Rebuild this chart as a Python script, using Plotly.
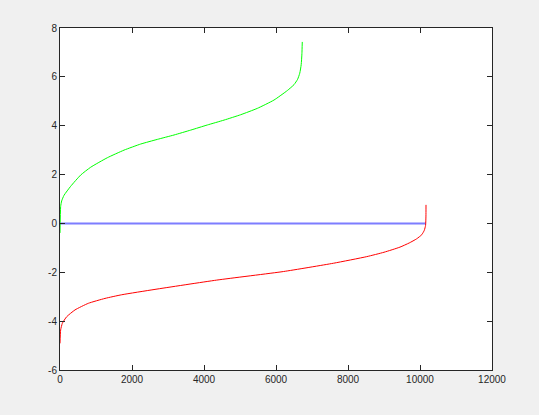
import plotly.graph_objects as go

# Green series (sorted values)
green_x = [0, 18, 46, 111, 296, 574, 852, 1315, 1778, 2241, 2704, 3167, 3630, 4093, 4556,
           5019, 5481, 5944, 6315, 6500, 6600, 6660, 6700, 6720, 6730]
green_y = [-0.39, 0.69, 0.92, 1.15, 1.52, 1.98, 2.30, 2.69, 3.00, 3.25, 3.44, 3.62, 3.82, 4.03, 4.23,
           4.45, 4.71, 5.05, 5.44, 5.68, 5.90, 6.15, 6.50, 6.95, 7.43]

# Red series
red_x = [0, 18, 65, 185, 417, 787, 1250, 1713, 2639, 4352, 6204, 7593, 8519, 9000, 9444,
         9700, 9907, 10050, 10120, 10155, 10165, 10167]
red_y = [-4.91, -4.36, -4.09, -3.82, -3.54, -3.27, -3.07, -2.92, -2.70, -2.32, -1.97, -1.63,
         -1.36, -1.18, -0.97, -0.80, -0.63, -0.46, -0.28, -0.08, 0.30, 0.76]

# Blue series (constant zero)
blue_x = [0, 10167]
blue_y = [0, 0]

x_ticks = [0, 2000, 4000, 6000, 8000, 10000, 12000]
y_ticks = [-6, -4, -2, 0, 2, 4, 6, 8]

fig = go.Figure()
fig.add_trace(go.Scatter(x=blue_x, y=blue_y, mode="lines",
                         line=dict(color="rgb(125,125,255)", width=2)))
fig.add_trace(go.Scatter(x=green_x, y=green_y, mode="lines",
                         line=dict(color="rgb(0,255,0)", width=1, shape="spline", smoothing=0.5)))
fig.add_trace(go.Scatter(x=red_x, y=red_y, mode="lines",
                         line=dict(color="rgb(255,0,0)", width=1, shape="spline", smoothing=0.5)))

axis_common = dict(showgrid=False, zeroline=False, showline=True, linecolor="#262626",
                   linewidth=1, mirror="ticks", ticks="inside", ticklen=5, tickcolor="#262626",
                   tickfont=dict(family="Liberation Sans, Arial, sans-serif", size=10, color="#262626"))

fig.update_layout(
    width=539, height=415,
    paper_bgcolor="#f0f0f0", plot_bgcolor="white",
    margin=dict(l=60, r=47, t=28, b=45),
    showlegend=False,
    xaxis=dict(range=[0, 12000], tickvals=x_ticks, ticktext=[str(v) for v in x_ticks], **axis_common),
    yaxis=dict(range=[-6, 8], tickvals=y_ticks, ticktext=[str(v) for v in y_ticks], **axis_common),
)

fig.write_html("out.html", config={"displayModeBar": False},
               post_script="document.body.style.margin='0';document.body.style.background='#f0f0f0';")
